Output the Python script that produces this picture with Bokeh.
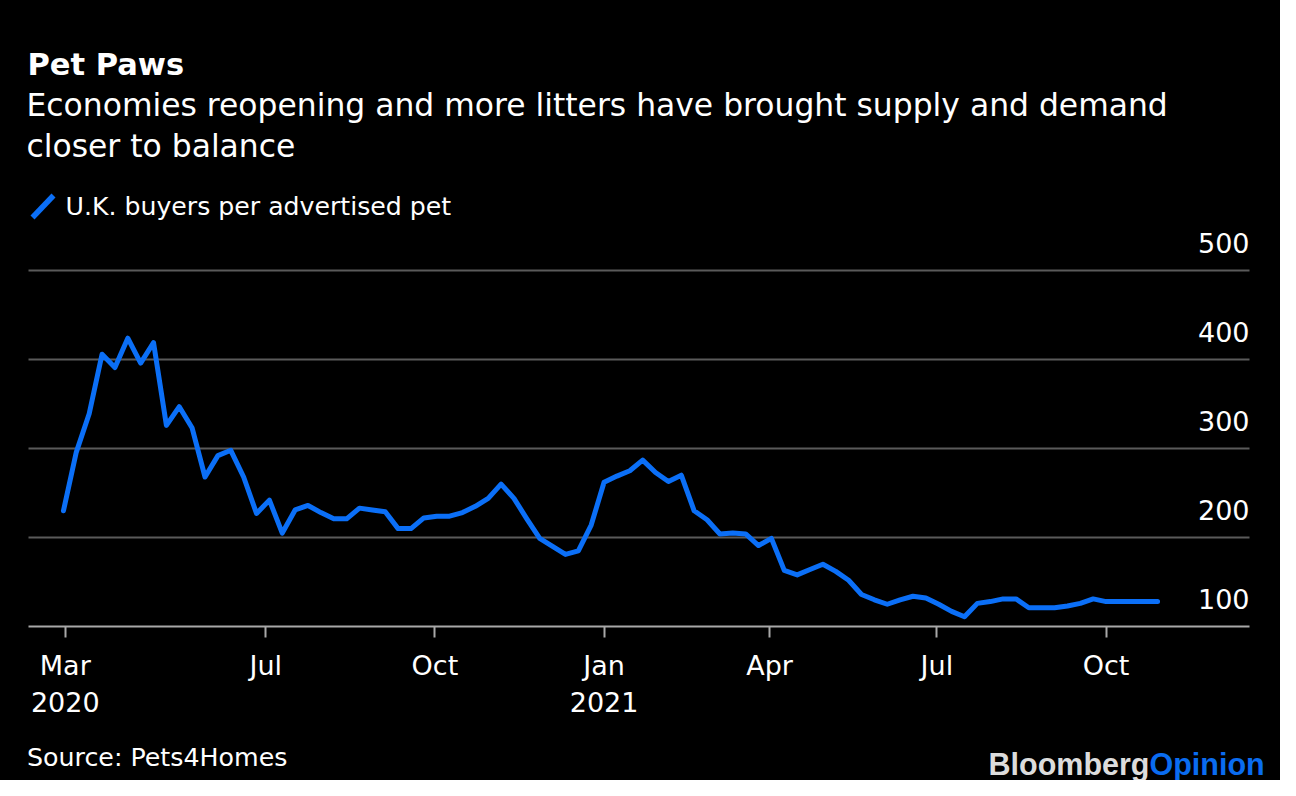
import pandas as pd
from bokeh.plotting import figure
from bokeh.layouts import column
from bokeh.models import Range1d, FixedTicker, Label
from bokeh.core.properties import value
from bokeh.embed import file_html
from bokeh.resources import INLINE

# ---------------- data ----------------
start_date = "2020-03-13"          # first weekly observation
buyers_per_pet = [
    230, 296, 339, 406, 391, 424, 396, 419, 326, 347,
    323, 268, 292, 298, 268, 227, 242, 205, 231, 236,
    228, 221, 221, 233, 231, 229, 210, 210, 222, 224,
    224, 228, 235, 244, 260, 244, 221, 199, 190, 181,
    185, 214, 262, 269, 275, 287, 273, 263, 270, 230,
    220, 204, 205, 204, 191, 199, 163, 158, 164, 170,
    162, 152, 136, 130, 125, 130, 134, 132, 125, 117,
    111, 126, 128, 131, 131, 121, 121, 121, 123, 126,
    131, 128, 128, 128, 128, 128,
]
dates = pd.date_range(start_date, periods=len(buyers_per_pet), freq="7D")

y_ticks = [100, 200, 300, 400, 500]
y_tick_labels = ["100", "200", "300", "400", "500"]
grid_ticks = [200, 300, 400, 500]

x_tick_dates = ["2020-03-14", "2020-07-01", "2020-10-01", "2021-01-01",
                "2021-04-01", "2021-07-01", "2021-10-01"]
x_tick_labels = ["Mar\n2020", "Jul", "Oct", "Jan\n2021", "Apr", "Jul", "Oct"]

title_text = "Pet Paws"
subtitle_lines = ["Economies reopening and more litters have brought supply and demand",
                  "closer to balance"]
legend_text = "U.K. buyers per advertised pet"
source_text = "Source: Pets4Homes"

# ---------------- style ----------------
FONT = "DejaVu Sans"
BLUE = "#0b6ff7"
GRID_COLOR = "#5a5a5a"
BLACK_CSS = {"background-color": "#000000"}
W = 1280
HEADER_H, MAIN_H, FOOTER_H = 226, 500, 54
PLOT_LEFT, PLOT_RIGHT = 28, 1249          # horizontal extent of axis / gridlines


def blank_fig(height):
    f = figure(width=W, height=height, output_backend="svg", toolbar_location=None,
               x_range=Range1d(0, W), y_range=Range1d(height, 0),
               x_axis_location=None, y_axis_location=None, title_location=None,
               min_border_left=0, min_border_right=0,
               min_border_top=0, min_border_bottom=0,
               border_fill_color=None, background_fill_color=None,
               outline_line_color=None, styles=BLACK_CSS)
    f.left = []
    f.right = []
    f.above = []
    f.below = []
    f.center = []
    return f


def add_label(fig, x, y, text, size, color="white", bold=False, font=FONT,
              align="left", baseline="middle"):
    fig.add_layout(Label(x=x, y=y, x_units="canvas", y_units="canvas", text=text,
                         text_font=font, text_font_size=size, text_color=color,
                         text_font_style="bold" if bold else "normal",
                         text_baseline=baseline, text_align=align))


# ---------------- header: title, subtitle, legend ----------------
header = blank_fig(HEADER_H)
add_label(header, 27, 63.8, title_text, "30.5px", bold=True)
add_label(header, 26, 104.5, subtitle_lines[0], "31.4px")
add_label(header, 26, 145.5, subtitle_lines[1], "31.4px")
# legend key (slash) + legend text
header.segment(x0=[32], y0=[217], x1=[53], y1=[195], line_color=BLUE, line_width=5.5)
add_label(header, 65, 205.7, legend_text, "25.2px")

# ---------------- main chart ----------------
axis_start = pd.Timestamp("2020-02-23")
axis_end = pd.Timestamp("2021-12-18")
days_per_px = (axis_end - axis_start) / (PLOT_RIGHT - PLOT_LEFT)
x_start = axis_start - PLOT_LEFT * days_per_px
x_end = axis_end + (W - PLOT_RIGHT) * days_per_px
to_ms = lambda t: float(pd.Timestamp(t).value // 10**6)

p = figure(width=W, height=MAIN_H, x_axis_type="datetime", y_axis_location=None,
           output_backend="svg", toolbar_location=None, title_location=None,
           x_range=Range1d(x_start, x_end), y_range=Range1d(100, 545),
           min_border_left=0, min_border_right=0,
           min_border_top=4, min_border_bottom=MAIN_H - 400,
           border_fill_color=None, background_fill_color=None,
           outline_line_color=None, styles=BLACK_CSS)

p.xgrid.visible = False
try:
    grid = p.ygrid[0]
    grid.cross_bounds = (to_ms(axis_start), to_ms(axis_end))
    grid.ticker = FixedTicker(ticks=grid_ticks)
    grid.grid_line_color = GRID_COLOR
    grid.grid_line_width = 2
except AttributeError:
    p.ygrid.visible = False
    p.segment(x0=[axis_start] * len(grid_ticks), x1=[axis_end] * len(grid_ticks),
              y0=grid_ticks, y1=grid_ticks, line_color=GRID_COLOR, line_width=2)

tick_ms = [int(pd.Timestamp(d).value // 10**6) for d in x_tick_dates]
ax = p.xaxis[0]
ax.bounds = (to_ms(axis_start), to_ms(axis_end))
ax.ticker = FixedTicker(ticks=tick_ms)
ax.major_label_overrides = dict(zip(tick_ms, x_tick_labels))
ax.axis_line_color = "#a8a8a8"
ax.axis_line_width = 2
ax.major_tick_line_color = "#a8a8a8"
ax.major_tick_line_width = 2
ax.major_tick_in = 0
ax.major_tick_out = 11
ax.minor_tick_line_color = None
ax.major_label_text_font = FONT
ax.major_label_text_font_size = "27px"
ax.major_label_text_color = "white"
ax.major_label_text_line_height = 1.22
ax.major_label_standoff = 12

p.line(dates, buyers_per_pet, line_color=BLUE, line_width=5,
       line_join="round", line_cap="round")

p.text(x=[axis_end] * len(y_ticks), y=y_ticks, text=y_tick_labels,
       text_align="right", text_baseline="middle", y_offset=-28,
       text_font=value(FONT), text_font_size="27px", text_color="white")

# ---------------- footer: source + logo ----------------
footer = blank_fig(FOOTER_H)
add_label(footer, 26.5, 31.3, source_text, "25.3px")
add_label(footer, 988, 37, "Bloomberg", "30.5px", color="#dcdcdc", bold=True, font="Liberation Sans")
add_label(footer, 1149, 37, "Opinion", "30.5px", color="#0a6cf0", bold=True, font="Liberation Sans")

layout = column(header, p, footer, spacing=0, styles=BLACK_CSS)

open("out.html", "w").write(file_html(layout, INLINE))
